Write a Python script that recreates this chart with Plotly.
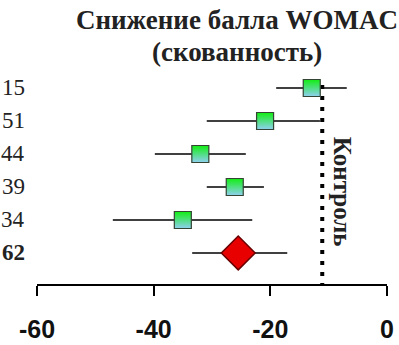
import plotly.graph_objects as go

row_labels = ["15", "51", "44", "39", "34", "62"]
row_pos = [6, 5, 4, 3, 2, 1]
estimates = [-12.9, -20.9, -32.0, -26.1, -35.0, -25.5]
ci_low = [-19.0, -30.9, -39.8, -30.9, -47.0, -33.4]
ci_high = [-6.9, -11.5, -24.2, -21.1, -23.1, -17.1]
control_value = -11.1
x_ticks = [-60, -40, -20, 0]
title_lines = ["Снижение балла WOMAC", "(скованность)"]
control_label = "Контроль"

SERIF = "Liberation Serif, Times New Roman, serif"

fig = go.Figure()

# dotted control line
fig.add_trace(go.Scatter(
    x=[control_value, control_value], y=[6.09, 0.06], mode="lines",
    line=dict(color="black", width=4, dash="4px,7px"), hoverinfo="skip", showlegend=False))

studies = slice(0, 5)
fig.add_trace(go.Scatter(
    x=estimates[studies], y=row_pos[studies], mode="markers",
    error_x=dict(type="data", symmetric=False,
                 array=[h - e for h, e in zip(ci_high[studies], estimates[studies])],
                 arrayminus=[e - l for l, e in zip(ci_low[studies], estimates[studies])],
                 color="black", thickness=1.6, width=0),
    marker=dict(symbol="square", size=17, color="#11ee11",
                gradient=dict(type="vertical", color="#8fd0f0"),
                line=dict(color="#334433", width=1.2)),
    showlegend=False))

fig.add_trace(go.Scatter(
    x=[estimates[5]], y=[row_pos[5]], mode="markers",
    error_x=dict(type="data", symmetric=False,
                 array=[ci_high[5] - estimates[5]], arrayminus=[estimates[5] - ci_low[5]],
                 color="black", thickness=1.6, width=0),
    marker=dict(symbol="diamond", size=26, color="#e80000",
                line=dict(color="#6a0000", width=1.5)),
    showlegend=False))

annotations = []
for lab, yp in zip(row_labels, row_pos):
    txt = f"<b>{lab}</b>" if lab == "62" else lab
    annotations.append(dict(x=-0.0286, xref="paper", y=yp, yref="y", text=txt,
                            showarrow=False, xanchor="right", yanchor="middle",
                            font=dict(family=SERIF, size=23, color="#222")))
annotations.append(dict(x=0.571, xref="paper", y=1.234, yref="paper", text=f"<b>{title_lines[0]}</b>",
                        showarrow=False, xanchor="center", yanchor="middle",
                        font=dict(family=SERIF, size=27, color="#222")))
annotations.append(dict(x=0.571, xref="paper", y=1.084, yref="paper", text=f"<b>{title_lines[1]}</b>",
                        showarrow=False, xanchor="center", yanchor="middle",
                        font=dict(family=SERIF, size=27, color="#222")))
annotations.append(dict(x=-7.7, xref="x", y=2.85, yref="y", text=f"<b>{control_label}</b>",
                        showarrow=False, textangle=90, xanchor="center", yanchor="middle",
                        font=dict(family=SERIF, size=25, color="#222")))

fig.update_layout(
    width=399, height=345,
    margin=dict(l=37, r=12, t=70, b=61, autoexpand=False),
    paper_bgcolor="white", plot_bgcolor="white",
    annotations=annotations,
    xaxis=dict(range=[-60, 0], tickvals=x_ticks, ticktext=[str(v) for v in x_ticks],
               showline=True, linecolor="black", linewidth=2,
               ticks="outside", ticklen=10, tickwidth=2, tickcolor="black", automargin=False,
               showgrid=False, zeroline=False, ticklabelstandoff=12,
               tickfont=dict(family="Liberation Sans, Arial, sans-serif", size=25, color="#111", weight="bold")),
    yaxis=dict(range=[0.06, 6.545], visible=False, showgrid=False, zeroline=False, automargin=False),
)

fig.write_html("out.html", config={"displayModeBar": False},
               post_script="document.body.style.margin='0';document.body.style.overflow='hidden';")
